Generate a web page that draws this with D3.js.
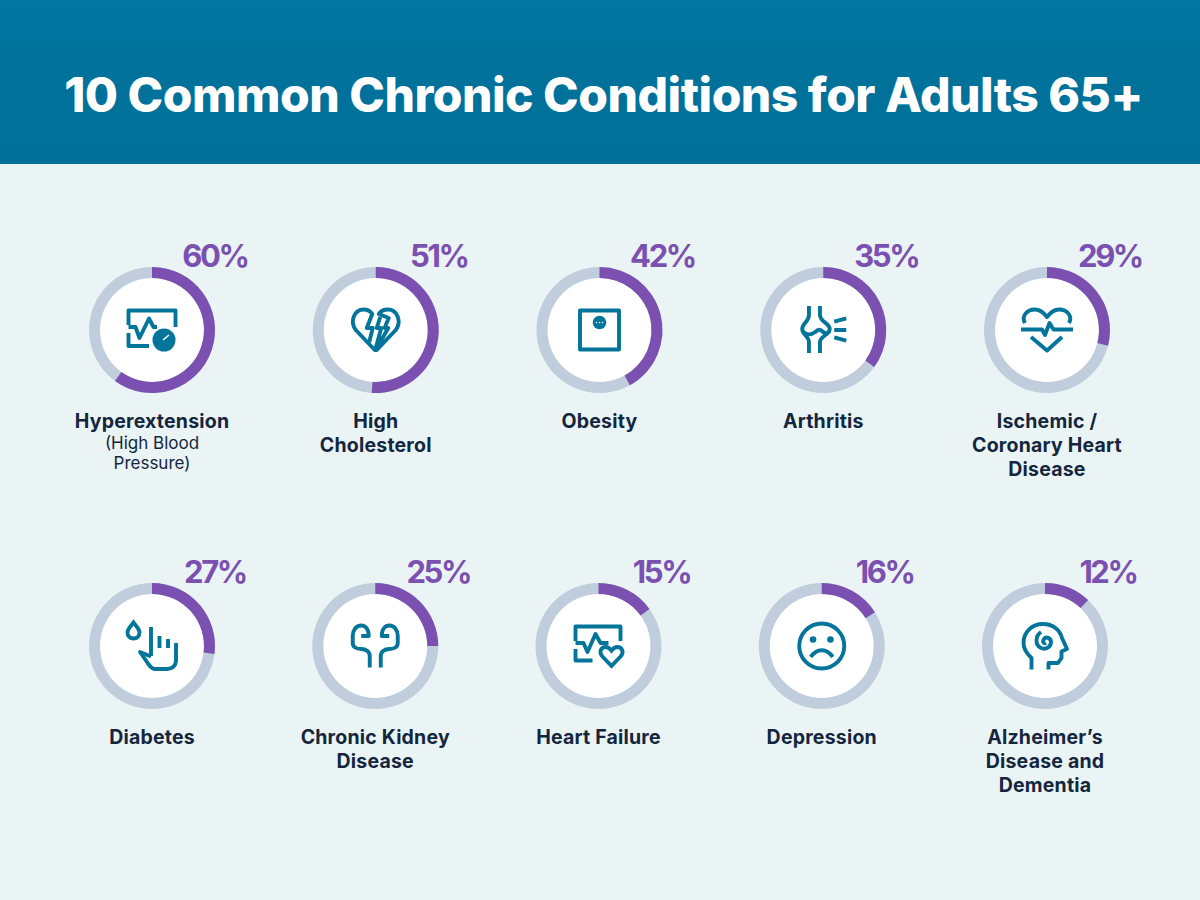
<!DOCTYPE html>
<html>
<head>
<meta charset="utf-8">
<script src="https://cdnjs.cloudflare.com/ajax/libs/d3/7.8.5/d3.min.js"></script>
<style>
  html, body { margin: 0; padding: 0; background: #eaf4f5; }
  svg { display: block; }
  text { font-family: Inter, sans-serif; text-anchor: middle; }
</style>
</head>
<body>
<svg id="chart" width="1200" height="900"></svg>
<script>
const titleText = '10 Common Chronic Conditions for Adults 65+';

// one array per thing
const conditions = [
  ['Hyperextension'],
  ['High', 'Cholesterol'],
  ['Obesity'],
  ['Arthritis'],
  ['Ischemic /', 'Coronary Heart', 'Disease'],
  ['Diabetes'],
  ['Chronic Kidney', 'Disease'],
  ['Heart Failure'],
  ['Depression'],
  ['Alzheimer’s', 'Disease and', 'Dementia']
];
const subLabels = [['(High Blood', 'Pressure)'], [], [], [], [], [], [], [], [], []];
const percents = [60, 51, 42, 35, 29, 27, 25, 15, 16, 12];
const iconNames = ['monitor', 'brokenHeart', 'scale', 'joint', 'heartPulse', 'hand', 'kidneys', 'monitorHeart', 'sad', 'head'];

const colors = {
  bg: '#eaf4f5',
  track: '#bfcddd',
  purple: '#7b50b0',
  teal: '#03759a',
  ink: '#14263d'
};

// icon outlines, drawn around the middle of each ring
const iconPaths = {
  monitor: 'M-23.5 -5V-19.5H23.5V-3 M-23.5 3V16H-3 M-23.5 -3H-16.5L-12.5 8L-3 -11.5L1.5 -3H5',
  brokenHeart: 'M0 21L-20 0C-26 -8 -22 -20.5 -12 -20.5C-8 -20.5 -5.5 -19 -3.5 -16L-9 -2H-3L-6.5 12 M0 21L20 0C26 -8 22 -20.5 12 -20.5C8 -20.5 5 -19 3 -16L13 -12L8.8 -2H12.5L0 20 M4.5 -13L1 -2H5.5L0 18',
  scale: 'M-19.5 -19.5H19.5V19.5H-19.5Z',
  joint: 'M-14.3 -24V-15C-14.3 -8 -21 -7 -21 -1C-21 5 -14.3 6 -14.3 12V23 M-3.3 -24V-15C-3.3 -8 6.5 -7 6.5 -1C6.5 5 -3.3 6 -3.3 12V23 M-21 1C-16 6 -12 5 -8 2C-5 -1 -3 -1 0 2C2 4 5 3 6.5 1 M11 -8.3L23 -11.7 M11 0H23 M11 7.3L23 10.7',
  heartPulse: 'M-22 -7C-26 -14 -20 -20.5 -12 -20.5C-7 -20.5 -3 -17 0 -13C3 -17 7 -20.5 12 -20.5C20 -20.5 26 -14 22 -7 M-26 -0.5H-5L-2 5L2.5 -7L6.5 -0.5H26 M-16 7L0 20.5L15 7',
  hand: 'M-1 -19V10 M7.5 -10V2 M16 -7V2 M24 -3V14C24 20 20 23 15 23H3C-1 23 -3 19 -5 16L-12 6L-1 10.5',
  kidneys: 'M-14 -10H-6.5C-6.5 -17 -10 -20.5 -14 -20.5C-19 -20.5 -22.5 -16 -22.5 -10V-3C-22.5 1 -19 3 -14 3C-9 3 -5.5 6 -5.5 10V21.5 M14 -10H6.5C6.5 -17 10 -20.5 14 -20.5C19 -20.5 22.5 -16 22.5 -10V-3C22.5 1 19 3 14 3C9 3 5.5 6 5.5 10V21.5',
  monitorHeart: 'M-23 -5V-19.5H22V-5 M-23 3V14.5H-6 M-23 -3H-15L-11 6L-3 -12L2 -3H10',
  sad: 'M-11 11C-5 2 5 2 11 11',
  head: 'M-13.5 23.5V12C-19 7 -21.5 2 -21.5 -3C-21.5 -14 -13 -22 -2 -22C8 -22 15 -16 17 -8L22 3L16.5 5.5V12L13 17H3.5V23.5 M-4 -14C-10 -10 -10 -1 -4 2C1 4 6 1 6 -4C6 -8 1 -10 -1 -7C-3 -4 -1 -2 1 -3'
};

const svg = d3.select('#chart');

const headerGrad = svg.append('defs').append('linearGradient')
  .attr('id', 'headerGrad').attr('x1', 0).attr('x2', 0).attr('y1', 0).attr('y2', 1);
headerGrad.append('stop').attr('offset', '0%').attr('stop-color', '#0076a3');
headerGrad.append('stop').attr('offset', '35%').attr('stop-color', '#00729b');
headerGrad.append('stop').attr('offset', '100%').attr('stop-color', '#007098');

svg.append('rect').attr('width', 1200).attr('height', 900).attr('fill', colors.bg);
svg.append('rect').attr('width', 1200).attr('height', 164).attr('fill', 'url(#headerGrad)');

svg.append('text')
  .attr('x', 603.5)
  .attr('y', 112)
  .attr('fill', '#fff')
  .style('font-size', '48px')
  .style('font-weight', 800)
  .style('letter-spacing', '-0.5px')
  .text(titleText);

// two rows of five; the rows are not quite the same width in the reference
const columns = d3.range(5);
const xTop = d3.scalePoint().domain(columns).range([152, 1047]);
const xBottom = d3.scalePoint().domain(columns).range([152, 1045]);
const yRow = d3.scalePoint().domain([0, 1]).range([330, 646]);

const angle = d3.scaleLinear().domain([0, 100]).range([0, 2 * Math.PI]);
const arc = d3.arc().innerRadius(52).outerRadius(63).startAngle(0);

const cells = svg.selectAll('g.cell')
  .data(percents.map((value, i) => ({
    value: value,
    name: conditions[i],
    sub: subLabels[i],
    icon: iconNames[i],
    col: i % 5,
    row: Math.floor(i / 5)
  })))
  .join('g')
  .attr('class', 'cell')
  .attr('transform', d => `translate(${(d.row ? xBottom : xTop)(d.col)},${yRow(d.row)})`);

cells.append('circle').attr('r', 52).attr('fill', '#fff');
cells.append('path').attr('fill', colors.track).attr('d', arc.endAngle(2 * Math.PI)());
cells.append('path').attr('fill', colors.purple).attr('d', d => arc.endAngle(angle(d.value))());

cells.append('text')
  .attr('x', 63)
  .attr('y', -63.5)
  .attr('fill', colors.purple)
  .style('font-size', '31px')
  .style('font-weight', 700)
  .style('letter-spacing', '-2.4px')
  .text(d => d.value + '%');

// names, with the lighter second part under them where there is one
cells.each(function(d) {
  const cell = d3.select(this);
  d.name.forEach((line, i) => {
    cell.append('text')
      .attr('y', 97.5 + i * 24.3)
      .attr('fill', colors.ink)
      .style('font-size', '19.5px')
      .style('font-weight', 700)
      .style('letter-spacing', '0.2px')
      .text(line);
  });
  d.sub.forEach((line, i) => {
    cell.append('text')
      .attr('y', 118.5 + i * 20.5)
      .attr('fill', colors.ink)
      .style('font-size', '17px')
      .style('font-weight', 400)
      .text(line);
  });
});

const icons = cells.append('g')
  .attr('class', 'icon')
  .attr('fill', 'none')
  .attr('stroke', colors.teal)
  .attr('stroke-width', 3.9);

icons.append('path')
  .attr('stroke-linejoin', 'round')
  .attr('d', d => iconPaths[d.icon]);

// the parts that are easier as shapes
const monitor = icons.filter(d => d.icon === 'monitor');
monitor.append('circle').attr('cx', 12).attr('cy', 10).attr('r', 11.5).attr('fill', colors.teal).attr('stroke', 'none');
monitor.append('path').attr('d', 'M11 10L17 5').attr('stroke', '#fff').attr('stroke-width', 1.5);

const scale = icons.filter(d => d.icon === 'scale');
scale.append('circle').attr('cy', -7.5).attr('r', 6.8).attr('fill', colors.teal).attr('stroke', 'none');
scale.selectAll('.pip').data([-3, 0, 3]).join('circle')
  .attr('class', 'pip').attr('cx', d => d).attr('cy', -7.5).attr('r', 0.8).attr('fill', '#fff').attr('stroke', 'none');

const hand = icons.filter(d => d.icon === 'hand');
hand.append('path').attr('d', 'M-18.5 -23.5C-22 -19 -24.5 -17 -24.5 -13.5C-24.5 -10 -22 -7.5 -18.5 -7.5C-15 -7.5 -12.5 -10 -12.5 -13.5C-12.5 -17 -15 -19 -18.5 -23.5Z');

const monitorHeart = icons.filter(d => d.icon === 'monitorHeart');
monitorHeart.append('path').attr('d', 'M13 20L3.5 10C0 5.5 3 1 7 1C9.5 1 11.5 2.5 13 4.5C14.5 2.5 16.5 1 19 1C23 1 26 5.5 22.5 10Z');

const sad = icons.filter(d => d.icon === 'sad');
sad.append('circle').attr('r', 22.5);
sad.selectAll('.eye').data([-8.7, 8.7]).join('circle')
  .attr('class', 'eye').attr('cx', d => d).attr('cy', -6.5).attr('r', 3.3).attr('fill', colors.teal).attr('stroke', 'none');
</script>
</body>
</html>
